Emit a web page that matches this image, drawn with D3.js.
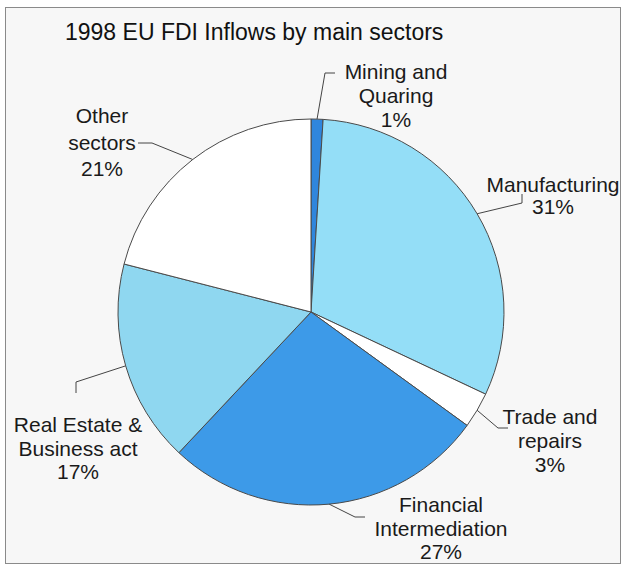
<!DOCTYPE html>
<html>
<head>
<meta charset="utf-8">
<script src="https://cdn.jsdelivr.net/npm/d3@7"></script>
<style>
  html, body { margin: 0; padding: 0; background: #ffffff; }
  svg { display: block; }
</style>
</head>
<body>
<svg id="chart" width="626" height="567"></svg>
<script>
// ---- data ----
const title = "1998 EU FDI Inflows by main sectors";
const sectors = ["Mining and Quaring", "Manufacturing", "Trade and repairs",
                 "Financial Intermediation", "Real Estate & Business act", "Other sectors"];
const labelLines = [["Mining and", "Quaring"], ["Manufacturing"], ["Trade and", "repairs"],
                    ["Financial", "Intermediation"], ["Real Estate &", "Business act"], ["Other", "sectors"]];
const shares = [1, 31, 3, 27, 17, 21];

// ---- styles / layout ----
const colors = ["#2f86dd", "#94def7", "#ffffff", "#3d9ae8", "#8fd7f0", "#ffffff"];
const cx = 311, cy = 312, R = 193;
const labelLayout = [
  {x: 396, y: 79,  lh: 24,   elbow: [325, 73],  end: [335, 73]},
  {x: 553, y: 192, lh: 22,   elbow: [522, 203], end: [522, 194]},
  {x: 550, y: 424, lh: 24,   elbow: [498, 428], end: [508, 428]},
  {x: 441, y: 512, lh: 23.5, elbow: [355, 517], end: [365, 517]},
  {x: 78,  y: 432, lh: 23.5, elbow: [76, 382],  end: [76, 393]},
  {x: 102, y: 123, lh: 26.5, elbow: [152, 143], end: [138, 143]}
];
const font = "'Liberation Sans', Arial, Helvetica, sans-serif";

const svg = d3.select("#chart");

// frame
svg.append("rect")
  .attr("x", 5.5).attr("y", 7.5).attr("width", 615).attr("height", 556)
  .attr("fill", "#f7f7f7").attr("stroke", "#8a8a8a").attr("stroke-width", 1);

// title
svg.append("text")
  .attr("x", 65).attr("y", 40)
  .attr("font-family", font).attr("font-size", 23)
  .attr("fill", "#111")
  .text(title);

const data = sectors.map((s, i) => ({name: s, value: shares[i], i}));
const pie = d3.pie().value(d => d.value).sort(null).startAngle(0).endAngle(2 * Math.PI);
const arcs = pie(data);
const arc = d3.arc().innerRadius(0).outerRadius(R);

const g = svg.append("g").attr("transform", `translate(${cx},${cy})`);
g.selectAll("path.slice")
  .data(arcs)
  .join("path")
  .attr("class", "slice")
  .attr("d", arc)
  .attr("fill", d => colors[d.data.i])
  .attr("stroke", "#4a4a4a")
  .attr("stroke-width", 1)
  .attr("stroke-linejoin", "round");

// leader lines
arcs.forEach(a => {
  const L = labelLayout[a.data.i];
  const mid = (a.startAngle + a.endAngle) / 2;
  const sx = cx + R * Math.sin(mid), sy = cy - R * Math.cos(mid);
  svg.append("polyline")
    .attr("points", [[sx, sy], L.elbow, L.end].map(p => p.join(",")).join(" "))
    .attr("fill", "none")
    .attr("stroke", "#444")
    .attr("stroke-width", 1);
});

// labels
arcs.forEach(a => {
  const L = labelLayout[a.data.i];
  const lines = labelLines[a.data.i].concat([a.data.value + "%"]);
  const t = svg.append("text")
    .attr("font-family", font).attr("font-size", 21)
    .attr("fill", "#1a1a1a")
    .attr("text-anchor", "middle");
  lines.forEach((ln, k) => {
    t.append("tspan").attr("x", L.x).attr("y", L.y + k * L.lh).text(ln);
  });
});
</script>
</body>
</html>
